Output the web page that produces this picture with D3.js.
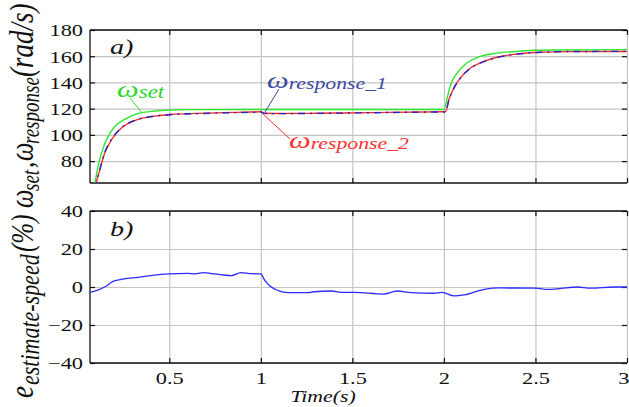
<!DOCTYPE html>
<html><head><meta charset="utf-8">
<script src="https://cdn.jsdelivr.net/npm/d3@7"></script>
<style>body{margin:0;background:#fff}svg{display:block}
svg text{font-family:"Liberation Serif",serif;}</style>
</head><body>
<script>
// ---------- data ----------
const setT  = [0.067,0.093,0.111,0.138,0.165,0.2,0.256,0.33,0.42,0.51,0.6,1.0,1.5,2.0,2.02,2.034,2.07,2.125,2.2,2.29,2.4,2.49,2.6,3.0];
const setV  = [50,63,76,89.7,98.5,106,111.8,116.4,118.2,119,119.3,119.4,119.4,119.4,129.4,137,146.8,154.8,159.9,162.4,163.7,164.5,164.8,165];
const resp2T = [0.067,0.1,0.12,0.147,0.183,0.237,0.33,0.42,0.51,0.656,0.8,0.95,1.0,1.02,1.1,1.3,1.6,1.9,2.0,2.01,2.027,2.055,2.09,2.145,2.22,2.29,2.4,2.53,2.7,3.0];
const resp2V = [45,63,73,86,96,105,111.8,114.3,115.6,116.4,117,117.4,117.6,116.5,116.3,116.5,117,117.5,117.6,118,126.8,136,143.5,151,156.1,159.2,161.7,163,163.5,163.6];
const resp1T = [0.067,0.1,0.12,0.147,0.183,0.237,0.33,0.42,0.51,0.656,0.8,0.95,1.0,1.02,1.1,1.3,1.6,1.9,2.0,2.01,2.027,2.055,2.09,2.145,2.22,2.29,2.4,2.53,2.7,3.0];
const resp1V = [45,63.5,73.5,86.5,96.3,105.2,111.9,114.3,115.5,116.2,116.8,117.2,117.4,116.4,116.2,116.4,116.9,117.4,117.5,118,126.5,135.7,143.3,150.8,156,159.1,161.6,163,163.6,163.7];
const errT = [0.067,0.11,0.156,0.19,0.237,0.33,0.42,0.5,0.6,0.64,0.69,0.73,0.78,0.84,0.89,0.95,1.0,1.02,1.05,1.095,1.15,1.26,1.29,1.385,1.44,1.51,1.67,1.745,1.82,1.945,1.99,2.055,2.11,2.22,2.31,2.5,2.57,2.64,2.73,2.8,2.93,3.0];
const errV = [-2.8,-1.6,0.5,2.8,4.0,5.1,6.3,6.9,7.2,6.9,7.6,7.0,6.5,6.0,7.6,7.0,6.9,3.7,0.5,-1.9,-3.0,-3.0,-2.5,-2.1,-2.8,-2.8,-3.7,-2.1,-3.0,-3.3,-2.8,-4.7,-4.2,-1.2,-0.5,-0.6,-1.3,-0.7,0,-0.6,0,0];
const xTicks = [0.5,1,1.5,2,2.5,3];
const xTickLabels = ["0.5","1","1.5","2","2.5","3"];
const yTopTicks = [80,100,120,140,160,180];
const yBotTicks = [-40,-20,0,20,40];

// ---------- layout ----------
const W = 629, H = 407;
const L = 90, R = 627;
const topT = 30, topB = 183, botT = 211, botB = 363;
const SX = 1.28; // horizontal stretch of text as in the reference
const FONT = '"Liberation Serif",serif';

const svg = d3.select("body").append("svg").attr("width", W).attr("height", H);

const x = d3.scaleLinear().domain([0.067, 3]).range([L, R]);
const yTop = d3.scaleLinear().domain([63.3, 180]).range([topB, topT]);
const yBot = d3.scaleLinear().domain([-40, 40]).range([botB, botT]);

svg.append("defs").selectAll("clipPath").data([["c1", topT, topB], ["c2", botT, botB]]).join("clipPath")
  .attr("id", d => d[0]).append("rect")
  .attr("x", L).attr("y", d => d[1]).attr("width", R - L + 2).attr("height", d => d[2] - d[1]);

function panel(y, yt, y0, y1, showX) {
  const g = svg.append("g");
  g.append("g").attr("transform", `translate(0,${y1})`)
    .call(d3.axisBottom(x).tickValues(xTicks).tickSize(-(y1 - y0)).tickFormat(""))
    .call(s => { s.select(".domain").remove(); s.selectAll("line").attr("stroke", "#c4c4c4").attr("stroke-width", 1.2); });
  g.append("g").attr("transform", `translate(${L},0)`)
    .call(d3.axisLeft(y).tickValues(yt).tickSize(-(R - L)).tickFormat(""))
    .call(s => { s.select(".domain").remove(); s.selectAll("line").attr("stroke", "#c4c4c4").attr("stroke-width", 1.2); });
  g.append("line").attr("x1", L).attr("x2", R).attr("y1", y0).attr("y2", y0).attr("stroke", "#111").attr("stroke-width", 1.3);
  g.append("line").attr("x1", L).attr("x2", R).attr("y1", y1).attr("y2", y1).attr("stroke", "#111").attr("stroke-width", 1.3);
  g.append("line").attr("x1", L).attr("x2", L).attr("y1", y0).attr("y2", y1).attr("stroke", "#111").attr("stroke-width", 1.3);
  const tk = s => { s.select(".domain").remove(); s.selectAll("line").attr("stroke", "#111").attr("stroke-width", 1.2); };
  g.append("g").attr("transform", `translate(0,${y0})`).call(d3.axisTop(x).tickValues(xTicks).tickSize(-5).tickFormat("")).call(tk);
  const bx = g.append("g").attr("transform", `translate(0,${y1})`)
    .call(d3.axisBottom(x).tickValues(xTicks).tickSize(-5).tickPadding(0)
      .tickFormat(showX ? ((d, i) => xTickLabels[i]) : "")).call(tk);
  g.append("g").attr("transform", `translate(${R},0)`).call(d3.axisRight(y).tickValues(yt).tickSize(-5).tickFormat("")).call(tk);
  const ly = g.append("g").attr("transform", `translate(${L},0)`)
    .call(d3.axisLeft(y).tickValues(yt).tickSize(-5).tickPadding(7)).call(tk);
  g.selectAll("g").attr("font-family", null);
  ly.selectAll("text").style("font-family", FONT).attr("font-size", 17.5).attr("fill", "#111")
    .attr("x", -7 / SX).attr("dy", "0.33em").attr("transform", `scale(${SX},1)`);
  if (showX) {
    bx.selectAll("text").style("font-family", FONT).attr("font-size", 17.5).attr("fill", "#111")
      .attr("y", 0).attr("dy", 0).attr("transform", `translate(0,21) scale(${SX},1)`)
      .filter(d => d === 3).attr("text-anchor", "end").attr("x", 2 / SX);
  }
  return g;
}

panel(yTop, yTopTicks, topT, topB, false);
panel(yBot, yBotTicks, botT, botB, true);

// ---------- curves ----------
const lineTop = d3.line().x(d => x(d[0])).y(d => yTop(d[1])).curve(d3.curveMonotoneX);
const lineBot = d3.line().x(d => x(d[0])).y(d => yBot(d[1])).curve(d3.curveMonotoneX);
const gTop = svg.append("g").attr("clip-path", "url(#c1)");
gTop.append("path").attr("d", lineTop(d3.zip(setT, setV))).attr("fill", "none").attr("stroke", "#2ee82e").attr("stroke-width", 1.4);
gTop.append("path").attr("d", lineTop(d3.zip(resp2T, resp2V))).attr("fill", "none").attr("stroke", "#ff2a2a").attr("stroke-width", 1.4);
gTop.append("path").attr("d", lineTop(d3.zip(resp1T, resp1V))).attr("fill", "none").attr("stroke", "#2222cc").attr("stroke-width", 1.4)
  .attr("stroke-dasharray", "7,5,2,5");
svg.append("g").attr("clip-path", "url(#c2)")
  .append("path").attr("d", lineBot(d3.zip(errT, errV))).attr("fill", "none").attr("stroke", "#2a2aff").attr("stroke-width", 1.3);

// ---------- annotations ----------
function label(xp, yp, parts, color, anchor) {
  const t = svg.append("text").attr("transform", `translate(${xp},${yp}) scale(${SX},1)`)
    .style("font-family", FONT).attr("font-style", "italic").attr("fill", color)
    .attr("text-anchor", anchor || "start");
  parts.forEach(p => t.append("tspan").attr("font-size", p[1]).attr("dy", p[2] || 0).attr("dx", p[3] || 0).text(p[0]));
  return t;
}
label(110, 54, [["a)", 22]], "#111");
label(110, 236, [["b)", 22]], "#111");
label(323, 402, [["Time(s)", 17]], "#111", "middle");

label(117, 97, [["ω", 24], ["set", 18, 1]], "#2ad82a");
svg.append("line").attr("x1", 130).attr("y1", 98).attr("x2", 142).attr("y2", 113).attr("stroke", "#2ad82a").attr("stroke-width", 1);

label(267, 88, [["ω", 24], ["response_1", 17, 1]], "#3c48a0");
svg.append("line").attr("x1", 279).attr("y1", 89).attr("x2", 265).attr("y2", 112).attr("stroke", "#3c48a0").attr("stroke-width", 1);

label(289, 148, [["ω", 24], ["response_2", 17, 1]], "#ff3030");
svg.append("line").attr("x1", 262).attr("y1", 113).attr("x2", 290).attr("y2", 139).attr("stroke", "#ff3030").attr("stroke-width", 1);

// rotated y label: [text, font-size, position along the text line, baseline shift]
const yl = svg.append("text").attr("transform", `translate(33,398) scale(${SX},1) rotate(-90)`)
  .style("font-family", FONT).attr("font-style", "italic").attr("fill", "#111");
[["e", 27, 0, 0], ["estimate-speed", 22, 13, 5], ["(%)", 25, 146, 0], ["ω", 26, 190, 0], ["set", 19, 207, 5],
 [",", 25, 230, 0], ["ω", 26, 237, 0], ["response", 19, 254, 5], ["(rad/s)", 27, 321, 0]]
  .forEach(p => yl.append("tspan").attr("font-size", p[1]).attr("x", p[2]).attr("y", p[3]).text(p[0]));
</script>
</body></html>
